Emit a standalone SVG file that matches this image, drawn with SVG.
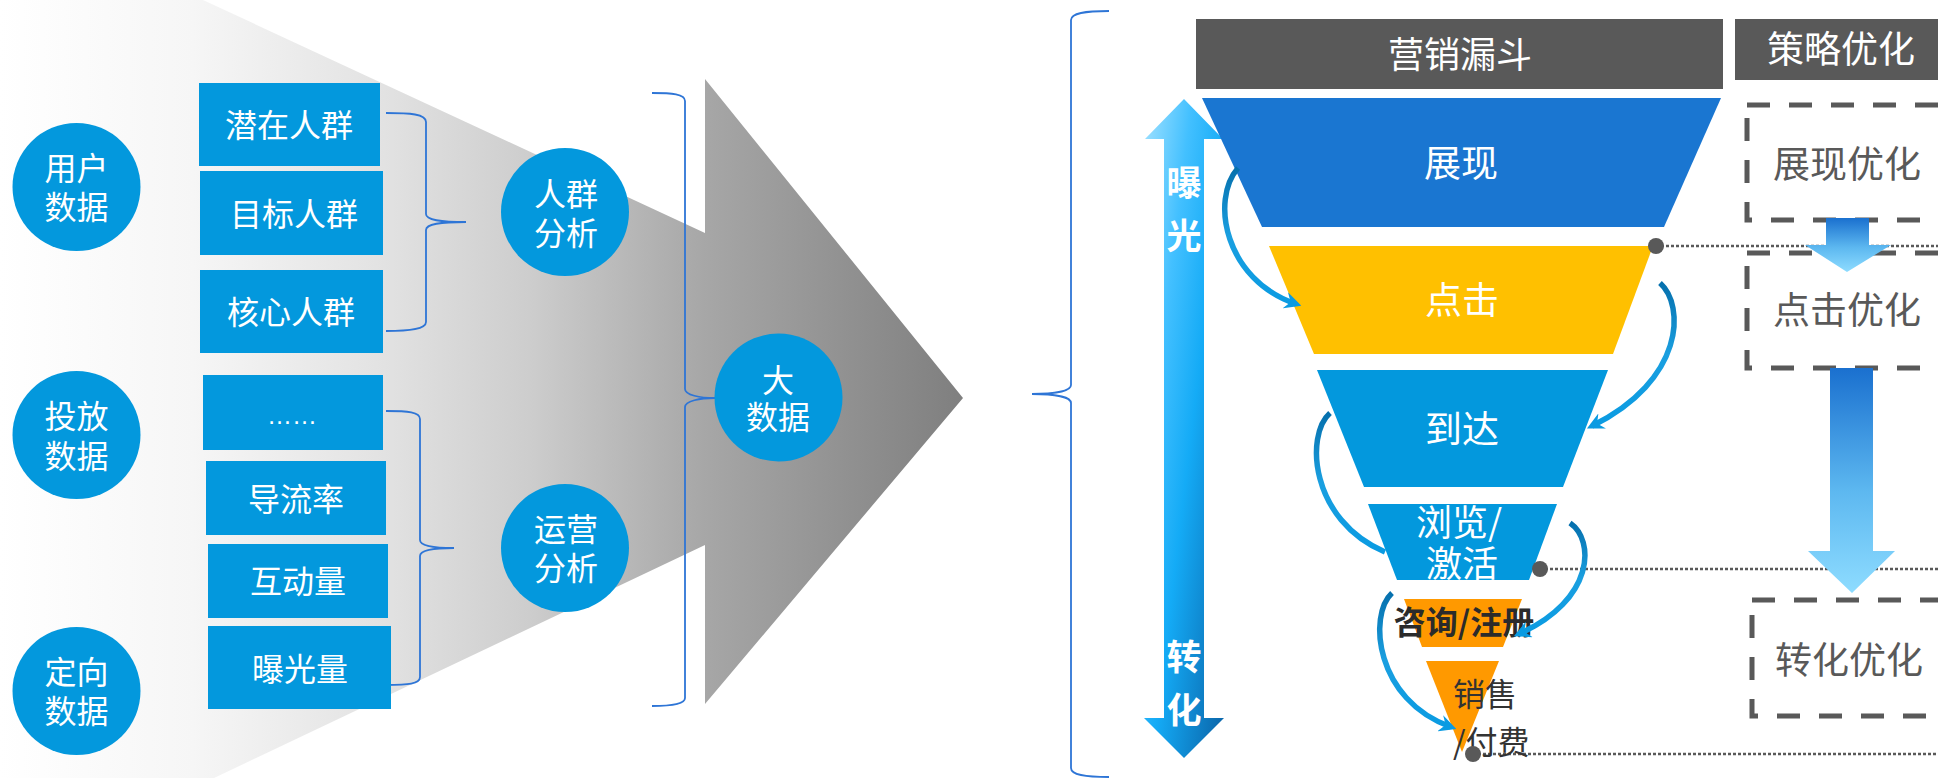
<svg xmlns="http://www.w3.org/2000/svg" width="1938" height="778" viewBox="0 0 1938 778">
<defs>
<linearGradient id="gBig" gradientUnits="userSpaceOnUse" x1="0" y1="0" x2="963" y2="0">
<stop offset="0" stop-color="#ffffff"/>
<stop offset="0.2" stop-color="#f6f6f6"/>
<stop offset="0.4" stop-color="#e2e2e2"/>
<stop offset="0.55" stop-color="#cdcdcd"/>
<stop offset="0.73" stop-color="#a7a7a7"/>
<stop offset="1" stop-color="#7f7f7f"/>
</linearGradient>
<linearGradient id="gVert" x1="0" y1="0" x2="1" y2="1">
<stop offset="0" stop-color="#a2e2ff"/>
<stop offset="0.3" stop-color="#43c0ff"/>
<stop offset="0.55" stop-color="#14abf6"/>
<stop offset="1" stop-color="#0a62a6"/>
</linearGradient>
<linearGradient id="gCurve" x1="0" y1="0" x2="0" y2="1">
<stop offset="0" stop-color="#0670ad"/>
<stop offset="0.5" stop-color="#1a9fe0"/>
<stop offset="1" stop-color="#0a9be2"/>
</linearGradient>
<linearGradient id="gDown" x1="0" y1="0" x2="0" y2="1">
<stop offset="0" stop-color="#1a70cf"/>
<stop offset="0.55" stop-color="#5db8f0"/>
<stop offset="1" stop-color="#8edcff"/>
</linearGradient>
<marker id="ah" viewBox="0 0 12 12" refX="8" refY="6" markerWidth="17" markerHeight="17" markerUnits="userSpaceOnUse" orient="auto">
<path d="M0,0 L12,6 L0,12 L4,6 z" fill="#0a9be2"/>
</marker>
</defs>
<style>
.blue{fill:#0398dd}
.t{font-family:"Noto Sans CJK SC","Noto Sans",sans-serif;text-anchor:middle}
.w32{fill:#ffffff;font-size:32px}
.w37{fill:#ffffff;font-size:37px}
.g37{fill:#595959;font-size:37px}
.vb{fill:#ffffff;font-size:35px;font-weight:bold}
.br{fill:none;stroke:#2e75d6;stroke-width:1.8}
.curve{fill:none;stroke:url(#gCurve);stroke-width:5.5;marker-end:url(#ah)}
.curve0{fill:none;stroke:url(#gCurve);stroke-width:5.5}
.dash{fill:none;stroke:#595959;stroke-width:5;stroke-dasharray:23 19}
.dot{fill:none;stroke:#595959;stroke-width:2.5;stroke-dasharray:3 2}
.hdr{fill:#595959}
</style>

<g id="background-arrow">
<polygon points="0,0 203,0 705,233 705,79 963,398 705,704 705,545 214,778 0,778" fill="url(#gBig)"/>
</g>

<g id="connectors">
<path class="br" d="M386,113 C410,113 426,114 426,122 L426,214 C426,220 440,222 466,222 C440,222 426,224 426,230 L426,322 C426,329 410,331 386,331"/>
<path class="br" d="M386,411 C408,411 420,412 420,419 L420,540 C420,546 434,548 454,548 C434,548 420,550 420,556 L420,677 C420,684 408,685 386,685"/>
<path class="br" d="M652,93 C672,93 685,94 685,101 L685,389 C685,395 700,398 715,398 C700,398 685,401 685,407 L685,698 C685,704 672,706 652,706"/>
<path class="br" d="M1109,11 C1085,11 1071,13 1071,20 L1071,385 C1071,391 1055,394 1032,394 C1055,394 1071,397 1071,403 L1071,768 C1071,775 1085,777 1109,777"/>
<line class="dot" x1="1656" y1="246" x2="1938" y2="246"/>
<line class="dot" x1="1540" y1="569" x2="1938" y2="569"/>
<line class="dot" x1="1473" y1="754" x2="1938" y2="754"/>
</g>

<g id="node-yonghu">
<circle class="blue" cx="76.5" cy="187" r="64"/>
<text class="t w32" x="76.5" y="180">用户<tspan x="76.5" dy="39">数据</tspan></text>
</g>
<g id="node-toufang">
<circle class="blue" cx="76.5" cy="435" r="64"/>
<text class="t w32" x="76.5" y="428">投放<tspan x="76.5" dy="40">数据</tspan></text>
</g>
<g id="node-dingxiang">
<circle class="blue" cx="76.5" cy="691" r="64"/>
<text class="t w32" x="76.5" y="684">定向<tspan x="76.5" dy="39">数据</tspan></text>
</g>

<g id="node-qianzai">
<rect class="blue" x="199" y="83" width="181" height="83"/>
<text class="t w32" x="289" y="137">潜在人群</text>
</g>
<g id="node-mubiao">
<rect class="blue" x="200" y="171" width="183" height="84"/>
<text class="t w32" x="294" y="226">目标人群</text>
</g>
<g id="node-hexin">
<rect class="blue" x="200" y="270" width="183" height="83"/>
<text class="t w32" x="291" y="324">核心人群</text>
</g>
<g id="node-etc">
<rect class="blue" x="203" y="375" width="180" height="75"/>
<text x="292" y="424" fill="#ffffff" font-size="25" font-family="Liberation Sans, sans-serif" text-anchor="middle">……</text>
</g>
<g id="node-daoliu">
<rect class="blue" x="206" y="461" width="180" height="74"/>
<text class="t w32" x="296" y="511">导流率</text>
</g>
<g id="node-hudong">
<rect class="blue" x="208" y="544" width="180" height="74"/>
<text class="t w32" x="298" y="593">互动量</text>
</g>
<g id="node-baoguang">
<rect class="blue" x="208" y="626" width="183" height="83"/>
<text class="t w32" x="300" y="681">曝光量</text>
</g>

<g id="node-renqun">
<circle class="blue" cx="565" cy="212" r="64"/>
<text class="t w32" x="566" y="206">人群<tspan x="566" dy="39">分析</tspan></text>
</g>
<g id="node-yunying">
<circle class="blue" cx="565" cy="548" r="64"/>
<text class="t w32" x="566" y="541">运营<tspan x="566" dy="39">分析</tspan></text>
</g>
<g id="node-dashuju">
<circle class="blue" cx="778.5" cy="397.5" r="64"/>
<text class="t w32" x="778" y="392">大<tspan x="778" dy="37">数据</tspan></text>
</g>

<g id="node-funnel-header">
<rect class="hdr" x="1196" y="19" width="527" height="70"/>
<text class="t" x="1460" y="68" fill="#ffffff" font-size="36">营销漏斗</text>
</g>
<g id="node-strategy-header">
<rect class="hdr" x="1735" y="19" width="210" height="61"/>
<text class="t" x="1841" y="63" fill="#ffffff" font-size="37">策略优化</text>
</g>

<g id="node-exposure-axis">
<polygon points="1184,99 1223,139 1204,139 1204,718 1224,718 1184,758 1144,718 1164,718 1164,139 1145,139" fill="url(#gVert)"/>
<text class="t vb" x="1184" y="196">曝<tspan x="1184" dy="53">光</tspan></text>
<text class="t vb" x="1184" y="670">转<tspan x="1184" dy="53">化</tspan></text>
</g>

<g id="node-zhanxian">
<polygon points="1202,98 1721,98 1664,227 1262,227" fill="#1a76d1"/>
<text class="t w37" x="1461" y="177">展现</text>
</g>
<g id="node-dianji">
<polygon points="1269,246 1653,246 1613,354 1314,354" fill="#ffc000"/>
<text class="t w37" x="1462" y="314">点击</text>
</g>
<g id="node-daoda">
<polygon points="1317,370 1608,370 1563,487 1364,487" fill="#0398dd"/>
<text class="t w37" x="1462" y="443">到达</text>
</g>
<g id="node-liulan">
<polygon points="1368,504 1557,504 1529,580 1397,580" fill="#0398dd"/>
<text class="t" x="1459" y="536" fill="#ffffff" font-size="36">浏览/<tspan x="1462" dy="41">激活</tspan></text>
</g>
<g id="node-zixun">
<polygon points="1404,599 1522,599 1503,647 1422,647" fill="#ff9900"/>
<text class="t" x="1464" y="634" fill="#2b2b2b" font-size="32" font-weight="bold">咨询/注册</text>
</g>
<g id="node-xiaoshou">
<polygon points="1426,661 1499,661 1462,752" fill="#ff9900"/>
<text x="1453" y="706" fill="#333333" font-size="32" font-family="Noto Sans CJK SC, Noto Sans, sans-serif">销售<tspan x="1453" dy="48">/付费</tspan></text>
</g>

<g id="funnel-flow-arrows">
<path class="curve" d="M1238,168 C1210,200 1225,280 1296,304"/>
<path class="curve" d="M1660,283 C1685,305 1685,380 1592,426"/>
<path class="curve0" d="M1330,413 C1305,435 1310,520 1385,552"/>
<path class="curve" d="M1570,523 C1595,540 1595,600 1519,634"/>
<path class="curve" d="M1392,593 C1368,615 1375,700 1451,727"/>
</g>

<g id="funnel-dots">
<circle cx="1656" cy="246" r="8" fill="#595959"/>
<circle cx="1540" cy="569" r="8" fill="#595959"/>
<circle cx="1473" cy="754" r="8" fill="#595959"/>
</g>

<g id="node-opt-zhanxian">
<rect class="dash" x="1747" y="105" width="260" height="115"/>
<text class="t g37" x="1847" y="178">展现优化</text>
</g>
<g id="node-opt-dianji">
<rect class="dash" x="1747" y="253" width="260" height="115"/>
<text class="t g37" x="1847" y="324">点击优化</text>
</g>
<g id="node-opt-zhuanhua">
<rect class="dash" x="1752" y="600" width="260" height="116"/>
<text class="t g37" x="1849" y="674">转化优化</text>
</g>

<g id="strategy-arrows">
<polygon points="1826,218 1869,218 1869,245 1891,245 1847,272 1805,245 1826,245" fill="url(#gDown)"/>
<polygon points="1830,368 1873,368 1873,551 1895,551 1852,593 1808,551 1830,551" fill="url(#gDown)"/>
</g>
</svg>
